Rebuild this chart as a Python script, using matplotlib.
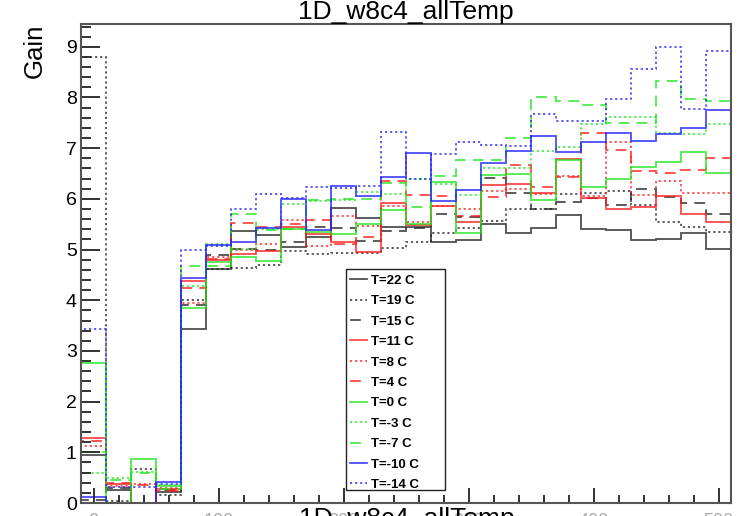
import numpy as np
import matplotlib
matplotlib.use("Agg")
import matplotlib.pyplot as plt
from matplotlib.ticker import MultipleLocator
from matplotlib.patches import Rectangle

plt.rcParams['font.family'] = ['Liberation Sans', 'DejaVu Sans']

# bin edges of the histograms (26 bins)
edges = np.arange(-10, 511, 20)

labels = ["T=22 C", "T=19 C", "T=15 C", "T=11 C", "T=8 C", "T=4 C",
          "T=0 C", "T=-3 C", "T=-7 C", "T=-10 C", "T=-14 C"]

gain_22 = [0.95, 0.25, 0.0, 0.22, 3.43, 4.62, 5.36, 5.28, 5.05, 5.25, 5.82, 5.62, 5.45,
           5.45, 5.15, 5.19, 5.5, 5.33, 5.42, 5.69, 5.41, 5.38, 5.18, 5.2, 5.33, 5.02]
gain_19 = [8.8, 0.03, 0.68, 0.15, 4.0, 4.62, 4.63, 4.7, 4.97, 4.92, 4.93, 4.93, 5.04,
           5.14, 5.33, 5.42, 5.56, 5.8, 5.8, 6.1, 6.12, 6.15, 5.87, 5.55, 5.44, 5.34]
gain_15 = [0.05, 0.3, 0.0, 0.25, 3.9, 4.9, 5.02, 5.0, 5.15, 5.45, 5.42, 5.16, 5.37,
           5.42, 5.71, 5.65, 6.42, 6.11, 5.8, 5.94, 6.02, 5.88, 6.19, 6.04, 5.91, 5.7]
gain_11 = [1.28, 0.38, 0.0, 0.27, 4.37, 4.8, 4.92, 4.98, 5.45, 5.3, 5.15, 4.96, 5.92,
           5.48, 5.85, 5.55, 6.28, 6.3, 6.11, 6.78, 6.02, 5.8, 5.84, 6.06, 5.7, 5.55]
gain_8 = [1.12, 0.33, 0.37, 0.3, 3.95, 4.85, 5.0, 5.1, 5.58, 5.07, 5.66, 5.46, 5.85,
          5.55, 5.85, 5.8, 6.16, 6.2, 6.1, 6.45, 6.05, 7.13, 6.07, 6.36, 6.11, 6.11]
gain_4 = [1.22, 0.4, 0.35, 0.24, 4.25, 4.82, 5.52, 5.45, 5.5, 5.58, 5.1, 5.25, 6.35,
          6.07, 6.05, 5.66, 6.04, 6.67, 6.23, 6.44, 7.3, 6.96, 6.55, 6.51, 6.57, 6.8]
gain_0 = [2.77, 0.0, 0.86, 0.33, 3.84, 4.76, 4.86, 4.78, 5.4, 5.35, 5.3, 5.5, 5.78,
          5.5, 6.33, 5.32, 6.47, 6.5, 5.98, 6.77, 6.24, 6.4, 6.63, 6.73, 6.93, 6.51]
gain_m3 = [0.59, 0.49, 0.62, 0.35, 4.28, 5.1, 5.02, 5.4, 5.9, 5.95, 5.98, 6.14, 6.1,
           6.4, 6.3, 6.08, 6.6, 6.6, 6.95, 7.03, 7.48, 7.62, 7.62, 7.3, 7.28, 7.47]
gain_m7 = [1.01, 0.45, 0.6, 0.28, 4.68, 4.68, 5.71, 5.38, 5.4, 5.98, 6.0, 6.0, 6.32,
           5.84, 6.45, 6.76, 6.77, 7.2, 8.01, 7.93, 7.86, 7.49, 7.49, 8.33, 7.98, 7.93]
gain_m10 = [0.11, 0.0, 0.0, 0.42, 4.44, 5.09, 5.15, 5.42, 6.0, 5.38, 6.26, 6.06, 6.44,
            6.91, 5.95, 6.17, 6.7, 6.95, 7.24, 6.93, 7.13, 7.29, 7.14, 7.27, 7.4, 7.76]
gain_m14 = [3.43, 0.32, 0.31, 0.38, 5.0, 5.08, 5.81, 6.1, 6.02, 6.24, 6.22, 6.25, 7.32,
            6.4, 6.88, 7.13, 7.06, 7.05, 7.68, 7.53, 7.54, 7.97, 8.57, 8.99, 7.77, 8.92]

series = [gain_22, gain_19, gain_15, gain_11, gain_8, gain_4,
          gain_0, gain_m3, gain_m7, gain_m10, gain_m14]

blk, red, grn, blu = '#222222', '#ff1a1a', '#1ee61e', '#2020ff'
colors = [blk, blk, blk, red, red, red, grn, grn, grn, blu, blu]
solid, dot, dash = '-', (0, (1.2, 1.6)), (0, (6, 4))
styles = [solid, dot, dash, solid, dot, dash, solid, dot, dash, solid, dot]

fig = plt.figure(figsize=(7.43, 5.16), dpi=100)
ax = fig.add_axes([81/743, 13/516, 650/743, 479/516])

for vals, c, ls, lab in zip(series, colors, styles, labels):
    ax.stairs(vals, edges, baseline=0, color=c, linestyle=ls, linewidth=1.3,
              alpha=0.8, label=lab)

ax.set_xlim(-10, 510)
ax.set_ylim(0, 9.45)
ax.xaxis.set_major_locator(MultipleLocator(100))
ax.xaxis.set_minor_locator(MultipleLocator(20))
ax.yaxis.set_major_locator(MultipleLocator(1))
ax.yaxis.set_minor_locator(MultipleLocator(0.2))
ax.tick_params(axis='both', which='both', direction='in', top=False, right=False,
               color='#222222', width=1.3)
ax.tick_params(axis='y', which='major', length=14, labelsize=14, pad=3)
ax.tick_params(axis='y', which='minor', length=7)
ax.tick_params(axis='x', which='major', length=11, labelsize=13, pad=7,
               labelcolor='#aaaaaa')
ax.tick_params(axis='x', which='minor', length=6)
for s in ax.spines.values():
    s.set_color('#555555')
    s.set_linewidth(1.5)

ax.set_title("1D_w8c4_allTemp", fontsize=19, pad=0)
ax.set_ylabel("Gain", fontsize=18.5, loc='top', labelpad=14)
fig.text(0.548, 1 - 507/516, "1D_w8c4_allTemp", fontsize=19, ha='center', va='top')

# legend box (ROOT style, wider than its text)
box = Rectangle((345.7/743, 1 - 490/516), 99.3/743, 221/516,
                transform=fig.transFigure, facecolor='white',
                edgecolor='#222222', linewidth=1.0, zorder=4, clip_on=False)
ax.add_patch(box)
leg = ax.legend(loc='upper left', bbox_to_anchor=(345.7/743, 1 - 270/516),
                bbox_transform=fig.transFigure, prop={'size': 9.5, 'weight': 'bold'},
                frameon=False, handlelength=1.3, handletextpad=0.3,
                labelspacing=0.62, borderpad=0.35, borderaxespad=0)
leg.set_zorder(5)

plt.savefig("out.png", dpi=100)
